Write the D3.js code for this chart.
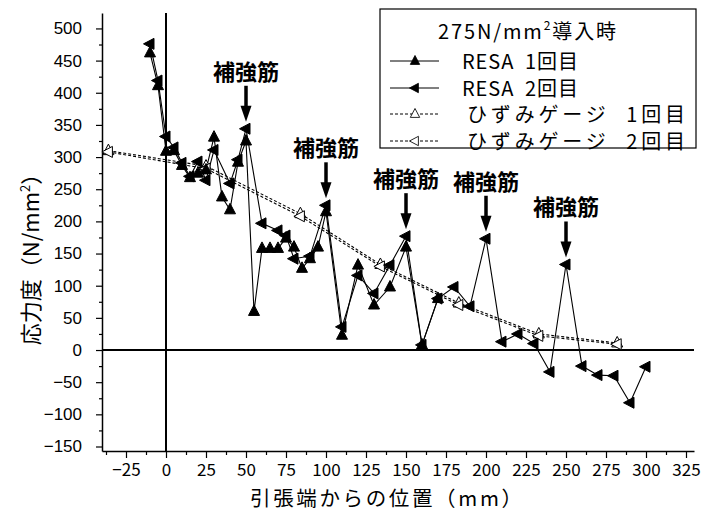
<!DOCTYPE html>
<html><head><meta charset="utf-8">
<script src="https://cdn.jsdelivr.net/npm/d3@7"></script>
<style>body{margin:0;background:#fff} svg{display:block;font-family:"Noto Sans CJK JP",sans-serif}</style>
</head><body><svg id="c" width="701" height="512"></svg>
<script>
// ---- data ----
const xTickValues = [-25,0,25,50,75,100,125,150,175,200,225,250,275,300,325];
const yTickValues = [-150,-100,-50,0,50,100,150,200,250,300,350,400,450,500];

const resa1X = [-10,-5,0,5,10,15,20,25,30,35,40,45,50,55,60,65,70,75,80,85,90,95,100,110,120,130,140,150,160,170];
const resa1Y = [462,411,309,310,287,268,275,280,331,238,218,292,325,60,158,158,158,174,160,127,142,160,215,23,132,70,98,160,8,80];

const resa2X = [-10,-5,0,5,10,15,20,25,30,40,45,50,60,70,75,80,90,100,110,120,130,140,150,160,170,180,190,200,210,220,230,240,250,260,270,280,290,300];
const resa2Y = [476,419,332,315,291,270,293,264,311,259,296,344,197,186,178,142,146,225,36,116,88,132,177,8,80,98,68,173,13,25,10,-34,133,-25,-39,-40,-82,-26];

const gaugeX  = [-36,25,84,134,183,233,282];
const gauge1Y = [310,286,212,133,73,25,11];
const gauge2Y = [308,282,208,130,70,22,9];

const rebarX = [50,100,150,200,250];
const rebarLabel = "補強筋";

const legendTitle = ["275N/mm","2","導入時"];
const seriesNames = ["RESA  1回目","RESA  2回目","ひずみゲージ  1回目","ひずみゲージ  2回目"];
const xTitle = "引張端からの位置（mm）";
const yTitle = ["応力度（N/mm","2","）"];

// ---- chart ----
const svg = d3.select("#c");
const x = d3.scaleLinear().domain([-40,330]).range([102,694]);
const y = d3.scaleLinear().domain([-157,524]).range([451,13]);

const zip = (xs, ys) => xs.map((v,i)=>[v, ys[i]]);
const s1 = zip(resa1X, resa1Y), s2 = zip(resa2X, resa2Y);
const g1 = zip(gaugeX, gauge1Y), g2 = zip(gaugeX, gauge2Y);

// axes
const ax = svg.append("g").attr("transform",`translate(0,${y(-157)})`)
  .call(d3.axisBottom(x).tickValues(xTickValues).tickSize(7).tickSizeOuter(0).tickPadding(6));
ax.selectAll("text").attr("font-size",17).attr("font-family","'Noto Sans CJK JP',sans-serif");
svg.append("g").attr("transform",`translate(0,${y(-157)})`)
  .call(d3.axisBottom(x).tickValues(d3.range(-37.5,330,25)).tickSize(4).tickFormat("").tickSizeOuter(0))
  .select(".domain").remove();

const ay = svg.append("g").attr("transform",`translate(${x(-40)},0)`)
  .call(d3.axisLeft(y).tickValues(yTickValues).tickSize(6).tickSizeOuter(0).tickPadding(14));
ay.selectAll("text").attr("font-size",17).attr("font-family","'Liberation Sans',Arial,sans-serif");
svg.append("g").attr("transform",`translate(${x(-40)},0)`)
  .call(d3.axisLeft(y).tickValues(d3.range(-125,525,50)).tickSize(3).tickFormat("").tickSizeOuter(0))
  .select(".domain").remove();
svg.selectAll(".domain").attr("stroke-width",1.5);
svg.selectAll(".tick line").attr("stroke-width",1.2);

// zero lines
svg.append("line").attr("x1",x(0)).attr("x2",x(0)).attr("y1",y(524)).attr("y2",y(-157))
  .attr("stroke","#000").attr("stroke-width",2);
svg.append("line").attr("x1",x(-40)).attr("x2",x(330)).attr("y1",y(0)).attr("y2",y(0))
  .attr("stroke","#000").attr("stroke-width",2);

// lines
const line = d3.line().x(d=>x(d[0])).y(d=>y(d[1]));
[g1,g2].forEach((s,i)=>svg.append("path").attr("d",line(s)).attr("fill","none")
  .attr("stroke","#000").attr("stroke-width",1.1).attr("stroke-dasharray","3,2"));
[s1,s2].forEach(s=>svg.append("path").attr("d",line(s)).attr("fill","none")
  .attr("stroke","#000").attr("stroke-width",1.1));

// markers
const upTri = "M0,-6.5L5.5,4L-5.5,4Z";
const leftTri = "M-6.5,0L4,-5.5L4,5.5Z";
function markers(s, path, filled){
  svg.append("g").selectAll("path").data(s).join("path")
    .attr("d",path).attr("transform",d=>`translate(${x(d[0])},${y(d[1])})`)
    .attr("fill",filled?"#000":"#fff").attr("stroke","#000").attr("stroke-width",1);
}
markers(g1, upTri, false);
markers(g2, leftTri, false);
markers(s1, upTri, true);
markers(s2, leftTri, true);

// rebar annotations
rebarX.forEach(r=>{
  const vals = [...s1,...s2].filter(d=>d[0]===r).map(d=>d[1]);
  const tip = y(d3.max(vals)) - 7;
  const cx = x(r);
  svg.append("line").attr("x1",cx).attr("x2",cx).attr("y1",tip-36).attr("y2",tip-13)
    .attr("stroke","#000").attr("stroke-width",3.5);
  svg.append("path").attr("d",`M${cx-5.5},${tip-16}L${cx+5.5},${tip-16}L${cx},${tip}Z`).attr("fill","#000");
  svg.append("text").attr("x",cx).attr("y",tip-42).attr("text-anchor","middle")
    .attr("font-size",22).attr("font-weight","bold").text(rebarLabel);
});

// axis titles
svg.append("text").attr("x",386).attr("y",505.5).attr("text-anchor","middle").attr("font-size",20.5)
  .attr("textLength",272).attr("lengthAdjust","spacing").text(xTitle);
const yt = svg.append("text").attr("transform","translate(39,254) rotate(-90)").attr("text-anchor","middle")
  .attr("font-size",22);
yt.append("tspan").text(yTitle[0]);
yt.append("tspan").attr("font-size",13).attr("dy",-9).text(yTitle[1]);
yt.append("tspan").attr("dy",9).text(yTitle[2]);

// legend
const lg = svg.append("g");
lg.append("rect").attr("x",380).attr("y",9).attr("width",316).attr("height",139)
  .attr("fill","#fff").attr("stroke","#000").attr("stroke-width",1.2);
const tt = lg.append("text").attr("x",438).attr("y",39).attr("font-size",20)
  .attr("textLength",178).attr("lengthAdjust","spacing");
tt.append("tspan").text(legendTitle[0]);
tt.append("tspan").attr("font-size",12).attr("dy",-9).text(legendTitle[1]);
tt.append("tspan").attr("dy",9).text(legendTitle[2]);
const rows = [61,88,114,141];
const shapes = [upTri,leftTri,upTri,leftTri];
const rowLen = [116,116,218,218];
rows.forEach((ry,i)=>{
  const dashed = i>=2;
  lg.append("line").attr("x1",390).attr("x2",439).attr("y1",ry).attr("y2",ry)
    .attr("stroke","#000").attr("stroke-width",1).attr("stroke-dasharray",dashed?"3,2":null);
  lg.append("path").attr("d",shapes[i]).attr("transform",`translate(415,${ry}) scale(0.85)`)
    .attr("fill",dashed?"#fff":"#000").attr("stroke","#000").attr("stroke-width",1);
  lg.append("text").attr("x",dashed?467:462).attr("y",ry+7.5).attr("font-size",20)
    .attr("textLength",rowLen[i]).attr("lengthAdjust","spacing")
    .attr("xml:space","preserve").style("white-space","pre").text(seriesNames[i]);
});
</script></body></html>
